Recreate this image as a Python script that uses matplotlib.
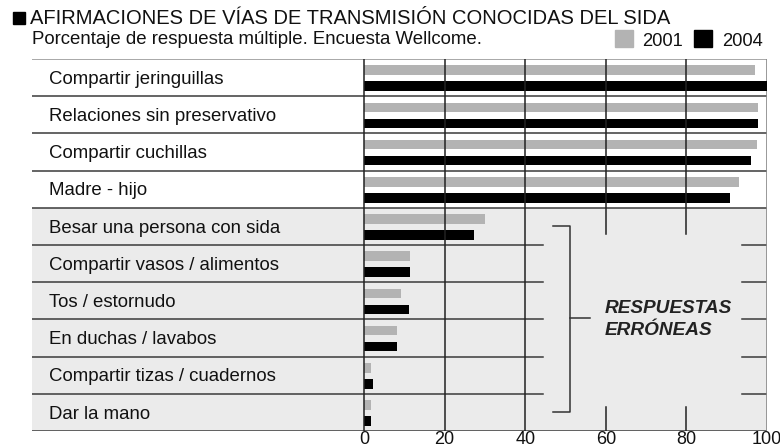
import matplotlib.pyplot as plt
import matplotlib.patches as mpatches

plt.rcParams['font.family'] = ['Liberation Sans', 'DejaVu Sans']

categorias = ["Compartir jeringuillas", "Relaciones sin preservativo", "Compartir cuchillas",
              "Madre - hijo", "Besar una persona con sida", "Compartir vasos / alimentos",
              "Tos / estornudo", "En duchas / lavabos", "Compartir tizas / cuadernos", "Dar la mano"]
v2001 = [97, 97.7, 97.4, 93, 30, 11.4, 9.2, 8.2, 1.7, 1.7]
v2004 = [100, 97.7, 96, 90.8, 27.3, 11.4, 11.2, 8.2, 2.2, 1.7]
ticks = [0, 20, 40, 60, 80, 100]

GRIS = '#b3b3b3'
FONDO = '#ebebeb'
LINEA = '#3a3a3a'
TXT = '#111111'

W, H = 780, 447
fig = plt.figure(figsize=(W / 100, H / 100), dpi=100)

# ejes: de x=32px a 767px, el 0 cae en 364px
px = (767 - 364) / 100.0
xmin = -(364 - 32) / px
ax = fig.add_axes([32 / W, (H - 431) / H, (767 - 32) / W, (431 - 59) / H])
ax.set_xlim(xmin, 100)
ax.set_ylim(10, 0)
for s in ax.spines.values():
    s.set_visible(False)

n = len(categorias)
# zona sombreada de respuestas erróneas
ax.add_patch(mpatches.Rectangle((xmin, 4), 100 - xmin, 6, color=FONDO, zorder=0, lw=0))

# barras
y = list(range(n))
ax.barh([i + 0.30 for i in y], v2001, height=0.26, color=GRIS, zorder=3)
ax.barh([i + 0.73 for i in y], v2004, height=0.26, color='black', zorder=3)

# líneas horizontales de filas
ax.plot([xmin, 100], [0, 0], color='#999999', lw=1.2, zorder=2)
for k in range(1, n + 1):
    if 5 <= k <= 9:
        ax.plot([xmin, 44.5], [k, k], color=LINEA, lw=1.1, zorder=2)
        ax.plot([93.9, 100], [k, k], color=LINEA, lw=1.1, zorder=2)
    else:
        ax.plot([xmin, 100], [k, k], color=LINEA, lw=1.1, zorder=2)

# líneas verticales
for t in ticks:
    if t in (60, 80):
        ax.plot([t, t], [0, 4.7], color='#222222', lw=1.1, zorder=4)
        ax.plot([t, t], [9.35, 10], color='#222222', lw=1.1, zorder=4)
    elif t == 100:
        ax.plot([t, t], [0, 10], color='#888888', lw=1.2, zorder=2)
    else:
        ax.plot([t, t], [0, 10], color='#222222', lw=1.1, zorder=4)

# etiquetas de categorías
for i, c in enumerate(categorias):
    ax.text((49 - 364) / px, i + 0.665, c, ha='left', va='baseline', fontsize=13.4, color=TXT)

# corchete
bx, bl, bm = 51.1, 46.9, 56.1
ax.plot([bl, bx, bx, bl], [4.5, 4.5, 9.5, 9.5], color='#333333', lw=1.1, zorder=2)
ax.plot([bx, bm], [6.95, 6.95], color='#333333', lw=1.1, zorder=2)
ax.text(59.6, 6.84, "RESPUESTAS", ha='left', va='baseline', fontsize=13.7,
        fontweight='bold', fontstyle='italic', color='#222222')
ax.text(59.6, 7.41, "ERRÓNEAS", ha='left', va='baseline', fontsize=13.7,
        fontweight='bold', fontstyle='italic', color='#222222')

ax.set_yticks([])
ax.set_xticks(ticks)
ax.tick_params(axis='x', length=0, pad=0, labelsize=13, labelcolor=TXT)

# título y subtítulo
fig.patches.append(mpatches.Rectangle((13 / W, 1 - 24 / H), 12 / W, 11.5 / H,
                                      transform=fig.transFigure, color='black'))
fig.text(30 / W, 1 - 24 / H, "AFIRMACIONES DE VÍAS DE TRANSMISIÓN CONOCIDAS DEL SIDA",
         ha='left', va='baseline', fontsize=14.5, color=TXT)
fig.text(32 / W, 1 - 44 / H, "Porcentaje de respuesta múltiple. Encuesta Wellcome.",
         ha='left', va='baseline', fontsize=13.4, color=TXT)

# leyenda
fig.patches.append(mpatches.Rectangle((615 / W, 1 - 46.5 / H), 18 / W, 16.5 / H,
                                      transform=fig.transFigure, color=GRIS))
fig.text(642 / W, 1 - 46 / H, "2001", ha='left', va='baseline', fontsize=13.2, color=TXT)
fig.patches.append(mpatches.Rectangle((694 / W, 1 - 46.5 / H), 18 / W, 16.5 / H,
                                      transform=fig.transFigure, color='black'))
fig.text(722 / W, 1 - 46 / H, "2004", ha='left', va='baseline', fontsize=13.2, color=TXT)

fig.savefig('out.png', dpi=100)
